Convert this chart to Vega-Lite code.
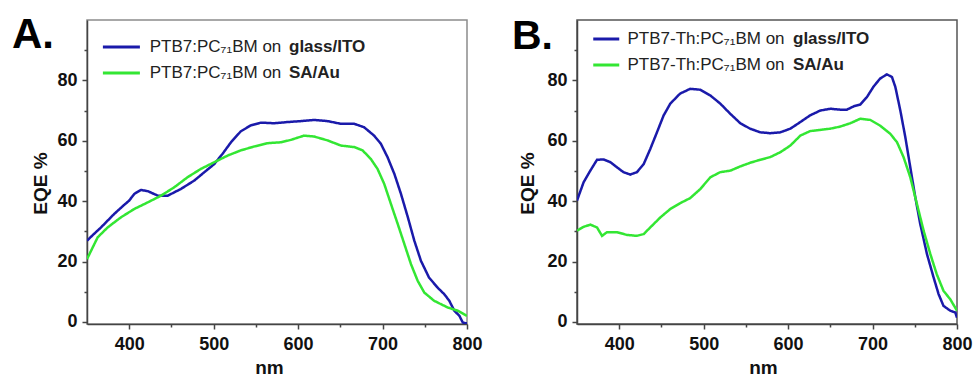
{
  "$schema": "https://vega.github.io/schema/vega-lite/v6.json",
  "padding": {"left": 11, "top": 13, "right": 0, "bottom": 0},
  "background": "white",
  "bounds": "flush",
  "spacing": 110,
  "resolve": {"scale": {"color": "independent", "strokeDash": "independent", "x": "independent", "y": "independent"}, "legend": {"color": "independent", "strokeDash": "independent"}},
  "config": {
    "font": "Liberation Sans",
    "view": {"stroke": "#8c8c8c", "strokeWidth": 1.5},
    "axis": {"grid": false, "labelFont": "Liberation Sans", "labelFontSize": 18, "labelFontWeight": "bold", "labelColor": "#111", "titleFont": "Liberation Sans", "titleFontSize": 19, "titleFontWeight": "bold", "titleColor": "#111", "domainColor": "#444", "domainWidth": 1.5, "tickColor": "#444", "tickWidth": 1.5, "labelFlush": false, "labelOverlap": false, "labelBound": false},
    "legend": {"labelFont": "Liberation Sans", "labelFontSize": 17, "labelColor": "#222", "padding": 0, "labelLimit": 400}
  },
  "datasets": {
    "A": [
      {"curve": "PTB7:PC₇₁BM on glass/ITO", "substrate": "glass/ITO", "nm": 350, "eqe": 26.9},
      {"curve": "PTB7:PC₇₁BM on glass/ITO", "substrate": "glass/ITO", "nm": 357, "eqe": 28.8},
      {"curve": "PTB7:PC₇₁BM on glass/ITO", "substrate": "glass/ITO", "nm": 366.6, "eqe": 31.3},
      {"curve": "PTB7:PC₇₁BM on glass/ITO", "substrate": "glass/ITO", "nm": 382, "eqe": 35.7},
      {"curve": "PTB7:PC₇₁BM on glass/ITO", "substrate": "glass/ITO", "nm": 393, "eqe": 38.5},
      {"curve": "PTB7:PC₇₁BM on glass/ITO", "substrate": "glass/ITO", "nm": 400, "eqe": 40.2},
      {"curve": "PTB7:PC₇₁BM on glass/ITO", "substrate": "glass/ITO", "nm": 406, "eqe": 42.4},
      {"curve": "PTB7:PC₇₁BM on glass/ITO", "substrate": "glass/ITO", "nm": 414, "eqe": 43.7},
      {"curve": "PTB7:PC₇₁BM on glass/ITO", "substrate": "glass/ITO", "nm": 422, "eqe": 43.3},
      {"curve": "PTB7:PC₇₁BM on glass/ITO", "substrate": "glass/ITO", "nm": 434, "eqe": 41.8},
      {"curve": "PTB7:PC₇₁BM on glass/ITO", "substrate": "glass/ITO", "nm": 445.5, "eqe": 41.8},
      {"curve": "PTB7:PC₇₁BM on glass/ITO", "substrate": "glass/ITO", "nm": 461, "eqe": 44},
      {"curve": "PTB7:PC₇₁BM on glass/ITO", "substrate": "glass/ITO", "nm": 477, "eqe": 46.8},
      {"curve": "PTB7:PC₇₁BM on glass/ITO", "substrate": "glass/ITO", "nm": 489, "eqe": 49.6},
      {"curve": "PTB7:PC₇₁BM on glass/ITO", "substrate": "glass/ITO", "nm": 500.8, "eqe": 52.3},
      {"curve": "PTB7:PC₇₁BM on glass/ITO", "substrate": "glass/ITO", "nm": 510.6, "eqe": 55.7},
      {"curve": "PTB7:PC₇₁BM on glass/ITO", "substrate": "glass/ITO", "nm": 520.5, "eqe": 59.5},
      {"curve": "PTB7:PC₇₁BM on glass/ITO", "substrate": "glass/ITO", "nm": 532, "eqe": 63.1},
      {"curve": "PTB7:PC₇₁BM on glass/ITO", "substrate": "glass/ITO", "nm": 544, "eqe": 65.1},
      {"curve": "PTB7:PC₇₁BM on glass/ITO", "substrate": "glass/ITO", "nm": 556, "eqe": 66},
      {"curve": "PTB7:PC₇₁BM on glass/ITO", "substrate": "glass/ITO", "nm": 572, "eqe": 65.8},
      {"curve": "PTB7:PC₇₁BM on glass/ITO", "substrate": "glass/ITO", "nm": 587.6, "eqe": 66.2},
      {"curve": "PTB7:PC₇₁BM on glass/ITO", "substrate": "glass/ITO", "nm": 603, "eqe": 66.5},
      {"curve": "PTB7:PC₇₁BM on glass/ITO", "substrate": "glass/ITO", "nm": 619, "eqe": 66.9},
      {"curve": "PTB7:PC₇₁BM on glass/ITO", "substrate": "glass/ITO", "nm": 635, "eqe": 66.5},
      {"curve": "PTB7:PC₇₁BM on glass/ITO", "substrate": "glass/ITO", "nm": 650.8, "eqe": 65.6},
      {"curve": "PTB7:PC₇₁BM on glass/ITO", "substrate": "glass/ITO", "nm": 666.6, "eqe": 65.6},
      {"curve": "PTB7:PC₇₁BM on glass/ITO", "substrate": "glass/ITO", "nm": 678, "eqe": 64.5},
      {"curve": "PTB7:PC₇₁BM on glass/ITO", "substrate": "glass/ITO", "nm": 690, "eqe": 61.7},
      {"curve": "PTB7:PC₇₁BM on glass/ITO", "substrate": "glass/ITO", "nm": 698, "eqe": 59},
      {"curve": "PTB7:PC₇₁BM on glass/ITO", "substrate": "glass/ITO", "nm": 706, "eqe": 54.5},
      {"curve": "PTB7:PC₇₁BM on glass/ITO", "substrate": "glass/ITO", "nm": 714, "eqe": 49},
      {"curve": "PTB7:PC₇₁BM on glass/ITO", "substrate": "glass/ITO", "nm": 721.8, "eqe": 42.4},
      {"curve": "PTB7:PC₇₁BM on glass/ITO", "substrate": "glass/ITO", "nm": 730, "eqe": 34.6},
      {"curve": "PTB7:PC₇₁BM on glass/ITO", "substrate": "glass/ITO", "nm": 737.6, "eqe": 26.9},
      {"curve": "PTB7:PC₇₁BM on glass/ITO", "substrate": "glass/ITO", "nm": 745.5, "eqe": 20.2},
      {"curve": "PTB7:PC₇₁BM on glass/ITO", "substrate": "glass/ITO", "nm": 755, "eqe": 14.7},
      {"curve": "PTB7:PC₇₁BM on glass/ITO", "substrate": "glass/ITO", "nm": 765, "eqe": 11.4},
      {"curve": "PTB7:PC₇₁BM on glass/ITO", "substrate": "glass/ITO", "nm": 773, "eqe": 9.2},
      {"curve": "PTB7:PC₇₁BM on glass/ITO", "substrate": "glass/ITO", "nm": 779, "eqe": 7},
      {"curve": "PTB7:PC₇₁BM on glass/ITO", "substrate": "glass/ITO", "nm": 785, "eqe": 3.7},
      {"curve": "PTB7:PC₇₁BM on glass/ITO", "substrate": "glass/ITO", "nm": 791, "eqe": 2},
      {"curve": "PTB7:PC₇₁BM on glass/ITO", "substrate": "glass/ITO", "nm": 795, "eqe": -0.2},
      {"curve": "PTB7:PC₇₁BM on glass/ITO", "substrate": "glass/ITO", "nm": 800, "eqe": -0.5},
      {"curve": "PTB7:PC₇₁BM on SA/Au", "substrate": "SA/Au", "nm": 350, "eqe": 20.8},
      {"curve": "PTB7:PC₇₁BM on SA/Au", "substrate": "SA/Au", "nm": 362.6, "eqe": 28},
      {"curve": "PTB7:PC₇₁BM on SA/Au", "substrate": "SA/Au", "nm": 374.5, "eqe": 31.3},
      {"curve": "PTB7:PC₇₁BM on SA/Au", "substrate": "SA/Au", "nm": 390, "eqe": 34.6},
      {"curve": "PTB7:PC₇₁BM on SA/Au", "substrate": "SA/Au", "nm": 406, "eqe": 37.4},
      {"curve": "PTB7:PC₇₁BM on SA/Au", "substrate": "SA/Au", "nm": 422, "eqe": 39.6},
      {"curve": "PTB7:PC₇₁BM on SA/Au", "substrate": "SA/Au", "nm": 437.6, "eqe": 41.8},
      {"curve": "PTB7:PC₇₁BM on SA/Au", "substrate": "SA/Au", "nm": 453.4, "eqe": 44.6},
      {"curve": "PTB7:PC₇₁BM on SA/Au", "substrate": "SA/Au", "nm": 469, "eqe": 47.9},
      {"curve": "PTB7:PC₇₁BM on SA/Au", "substrate": "SA/Au", "nm": 485, "eqe": 50.7},
      {"curve": "PTB7:PC₇₁BM on SA/Au", "substrate": "SA/Au", "nm": 500.8, "eqe": 52.9},
      {"curve": "PTB7:PC₇₁BM on SA/Au", "substrate": "SA/Au", "nm": 516.6, "eqe": 55.1},
      {"curve": "PTB7:PC₇₁BM on SA/Au", "substrate": "SA/Au", "nm": 532, "eqe": 56.8},
      {"curve": "PTB7:PC₇₁BM on SA/Au", "substrate": "SA/Au", "nm": 548, "eqe": 58.1},
      {"curve": "PTB7:PC₇₁BM on SA/Au", "substrate": "SA/Au", "nm": 564, "eqe": 59.2},
      {"curve": "PTB7:PC₇₁BM on SA/Au", "substrate": "SA/Au", "nm": 579.7, "eqe": 59.5},
      {"curve": "PTB7:PC₇₁BM on SA/Au", "substrate": "SA/Au", "nm": 591.6, "eqe": 60.3},
      {"curve": "PTB7:PC₇₁BM on SA/Au", "substrate": "SA/Au", "nm": 607, "eqe": 61.7},
      {"curve": "PTB7:PC₇₁BM on SA/Au", "substrate": "SA/Au", "nm": 619, "eqe": 61.4},
      {"curve": "PTB7:PC₇₁BM on SA/Au", "substrate": "SA/Au", "nm": 635, "eqe": 60.1},
      {"curve": "PTB7:PC₇₁BM on SA/Au", "substrate": "SA/Au", "nm": 650.8, "eqe": 58.4},
      {"curve": "PTB7:PC₇₁BM on SA/Au", "substrate": "SA/Au", "nm": 666.6, "eqe": 57.9},
      {"curve": "PTB7:PC₇₁BM on SA/Au", "substrate": "SA/Au", "nm": 676.4, "eqe": 56.8},
      {"curve": "PTB7:PC₇₁BM on SA/Au", "substrate": "SA/Au", "nm": 686, "eqe": 54},
      {"curve": "PTB7:PC₇₁BM on SA/Au", "substrate": "SA/Au", "nm": 694, "eqe": 50.7},
      {"curve": "PTB7:PC₇₁BM on SA/Au", "substrate": "SA/Au", "nm": 702, "eqe": 45.7},
      {"curve": "PTB7:PC₇₁BM on SA/Au", "substrate": "SA/Au", "nm": 710, "eqe": 39},
      {"curve": "PTB7:PC₇₁BM on SA/Au", "substrate": "SA/Au", "nm": 718, "eqe": 32.4},
      {"curve": "PTB7:PC₇₁BM on SA/Au", "substrate": "SA/Au", "nm": 725.8, "eqe": 25.8},
      {"curve": "PTB7:PC₇₁BM on SA/Au", "substrate": "SA/Au", "nm": 733.7, "eqe": 19.1},
      {"curve": "PTB7:PC₇₁BM on SA/Au", "substrate": "SA/Au", "nm": 741.6, "eqe": 13.6},
      {"curve": "PTB7:PC₇₁BM on SA/Au", "substrate": "SA/Au", "nm": 749.5, "eqe": 9.7},
      {"curve": "PTB7:PC₇₁BM on SA/Au", "substrate": "SA/Au", "nm": 761, "eqe": 7},
      {"curve": "PTB7:PC₇₁BM on SA/Au", "substrate": "SA/Au", "nm": 777, "eqe": 4.8},
      {"curve": "PTB7:PC₇₁BM on SA/Au", "substrate": "SA/Au", "nm": 789, "eqe": 3.7},
      {"curve": "PTB7:PC₇₁BM on SA/Au", "substrate": "SA/Au", "nm": 800, "eqe": 2}
    ],
    "B": [
      {"curve": "PTB7-Th:PC₇₁BM on glass/ITO", "substrate": "glass/ITO", "nm": 350, "eqe": 40.2},
      {"curve": "PTB7-Th:PC₇₁BM on glass/ITO", "substrate": "glass/ITO", "nm": 357.9, "eqe": 46.3},
      {"curve": "PTB7-Th:PC₇₁BM on glass/ITO", "substrate": "glass/ITO", "nm": 365.8, "eqe": 50.1},
      {"curve": "PTB7-Th:PC₇₁BM on glass/ITO", "substrate": "glass/ITO", "nm": 373.7, "eqe": 53.7},
      {"curve": "PTB7-Th:PC₇₁BM on glass/ITO", "substrate": "glass/ITO", "nm": 381.6, "eqe": 53.8},
      {"curve": "PTB7-Th:PC₇₁BM on glass/ITO", "substrate": "glass/ITO", "nm": 389.5, "eqe": 52.9},
      {"curve": "PTB7-Th:PC₇₁BM on glass/ITO", "substrate": "glass/ITO", "nm": 397.4, "eqe": 51.2},
      {"curve": "PTB7-Th:PC₇₁BM on glass/ITO", "substrate": "glass/ITO", "nm": 405, "eqe": 49.6},
      {"curve": "PTB7-Th:PC₇₁BM on glass/ITO", "substrate": "glass/ITO", "nm": 413, "eqe": 48.8},
      {"curve": "PTB7-Th:PC₇₁BM on glass/ITO", "substrate": "glass/ITO", "nm": 421, "eqe": 49.6},
      {"curve": "PTB7-Th:PC₇₁BM on glass/ITO", "substrate": "glass/ITO", "nm": 429, "eqe": 52.3},
      {"curve": "PTB7-Th:PC₇₁BM on glass/ITO", "substrate": "glass/ITO", "nm": 436.8, "eqe": 57.3},
      {"curve": "PTB7-Th:PC₇₁BM on glass/ITO", "substrate": "glass/ITO", "nm": 444.7, "eqe": 62.8},
      {"curve": "PTB7-Th:PC₇₁BM on glass/ITO", "substrate": "glass/ITO", "nm": 452.6, "eqe": 68.4},
      {"curve": "PTB7-Th:PC₇₁BM on glass/ITO", "substrate": "glass/ITO", "nm": 460.5, "eqe": 72.3},
      {"curve": "PTB7-Th:PC₇₁BM on glass/ITO", "substrate": "glass/ITO", "nm": 472, "eqe": 75.6},
      {"curve": "PTB7-Th:PC₇₁BM on glass/ITO", "substrate": "glass/ITO", "nm": 484, "eqe": 77.2},
      {"curve": "PTB7-Th:PC₇₁BM on glass/ITO", "substrate": "glass/ITO", "nm": 496, "eqe": 76.9},
      {"curve": "PTB7-Th:PC₇₁BM on glass/ITO", "substrate": "glass/ITO", "nm": 507.9, "eqe": 75},
      {"curve": "PTB7-Th:PC₇₁BM on glass/ITO", "substrate": "glass/ITO", "nm": 519.7, "eqe": 72.3},
      {"curve": "PTB7-Th:PC₇₁BM on glass/ITO", "substrate": "glass/ITO", "nm": 531.6, "eqe": 68.9},
      {"curve": "PTB7-Th:PC₇₁BM on glass/ITO", "substrate": "glass/ITO", "nm": 543.4, "eqe": 65.8},
      {"curve": "PTB7-Th:PC₇₁BM on glass/ITO", "substrate": "glass/ITO", "nm": 555, "eqe": 64},
      {"curve": "PTB7-Th:PC₇₁BM on glass/ITO", "substrate": "glass/ITO", "nm": 567, "eqe": 62.8},
      {"curve": "PTB7-Th:PC₇₁BM on glass/ITO", "substrate": "glass/ITO", "nm": 579, "eqe": 62.5},
      {"curve": "PTB7-Th:PC₇₁BM on glass/ITO", "substrate": "glass/ITO", "nm": 590.8, "eqe": 62.8},
      {"curve": "PTB7-Th:PC₇₁BM on glass/ITO", "substrate": "glass/ITO", "nm": 602.6, "eqe": 64},
      {"curve": "PTB7-Th:PC₇₁BM on glass/ITO", "substrate": "glass/ITO", "nm": 614.5, "eqe": 66.2},
      {"curve": "PTB7-Th:PC₇₁BM on glass/ITO", "substrate": "glass/ITO", "nm": 626, "eqe": 68.4},
      {"curve": "PTB7-Th:PC₇₁BM on glass/ITO", "substrate": "glass/ITO", "nm": 638, "eqe": 70},
      {"curve": "PTB7-Th:PC₇₁BM on glass/ITO", "substrate": "glass/ITO", "nm": 650, "eqe": 70.6},
      {"curve": "PTB7-Th:PC₇₁BM on glass/ITO", "substrate": "glass/ITO", "nm": 661.8, "eqe": 70.3},
      {"curve": "PTB7-Th:PC₇₁BM on glass/ITO", "substrate": "glass/ITO", "nm": 669.7, "eqe": 70.3},
      {"curve": "PTB7-Th:PC₇₁BM on glass/ITO", "substrate": "glass/ITO", "nm": 677.6, "eqe": 71.4},
      {"curve": "PTB7-Th:PC₇₁BM on glass/ITO", "substrate": "glass/ITO", "nm": 685.5, "eqe": 72},
      {"curve": "PTB7-Th:PC₇₁BM on glass/ITO", "substrate": "glass/ITO", "nm": 693.4, "eqe": 74.5},
      {"curve": "PTB7-Th:PC₇₁BM on glass/ITO", "substrate": "glass/ITO", "nm": 701.3, "eqe": 78},
      {"curve": "PTB7-Th:PC₇₁BM on glass/ITO", "substrate": "glass/ITO", "nm": 709, "eqe": 80.6},
      {"curve": "PTB7-Th:PC₇₁BM on glass/ITO", "substrate": "glass/ITO", "nm": 717, "eqe": 82},
      {"curve": "PTB7-Th:PC₇₁BM on glass/ITO", "substrate": "glass/ITO", "nm": 723, "eqe": 81.1},
      {"curve": "PTB7-Th:PC₇₁BM on glass/ITO", "substrate": "glass/ITO", "nm": 727, "eqe": 77.8},
      {"curve": "PTB7-Th:PC₇₁BM on glass/ITO", "substrate": "glass/ITO", "nm": 732.9, "eqe": 70},
      {"curve": "PTB7-Th:PC₇₁BM on glass/ITO", "substrate": "glass/ITO", "nm": 738.8, "eqe": 61.2},
      {"curve": "PTB7-Th:PC₇₁BM on glass/ITO", "substrate": "glass/ITO", "nm": 744.7, "eqe": 51.2},
      {"curve": "PTB7-Th:PC₇₁BM on glass/ITO", "substrate": "glass/ITO", "nm": 750.6, "eqe": 41.3},
      {"curve": "PTB7-Th:PC₇₁BM on glass/ITO", "substrate": "glass/ITO", "nm": 756.5, "eqe": 32.4},
      {"curve": "PTB7-Th:PC₇₁BM on glass/ITO", "substrate": "glass/ITO", "nm": 764.4, "eqe": 22.5},
      {"curve": "PTB7-Th:PC₇₁BM on glass/ITO", "substrate": "glass/ITO", "nm": 772.3, "eqe": 14.7},
      {"curve": "PTB7-Th:PC₇₁BM on glass/ITO", "substrate": "glass/ITO", "nm": 778.2, "eqe": 9.2},
      {"curve": "PTB7-Th:PC₇₁BM on glass/ITO", "substrate": "glass/ITO", "nm": 784, "eqe": 5.3},
      {"curve": "PTB7-Th:PC₇₁BM on glass/ITO", "substrate": "glass/ITO", "nm": 792, "eqe": 3.7},
      {"curve": "PTB7-Th:PC₇₁BM on glass/ITO", "substrate": "glass/ITO", "nm": 798, "eqe": 3.1},
      {"curve": "PTB7-Th:PC₇₁BM on glass/ITO", "substrate": "glass/ITO", "nm": 800, "eqe": 1.4},
      {"curve": "PTB7-Th:PC₇₁BM on SA/Au", "substrate": "SA/Au", "nm": 350, "eqe": 30.2},
      {"curve": "PTB7-Th:PC₇₁BM on SA/Au", "substrate": "SA/Au", "nm": 357.9, "eqe": 31.5},
      {"curve": "PTB7-Th:PC₇₁BM on SA/Au", "substrate": "SA/Au", "nm": 365.8, "eqe": 32.2},
      {"curve": "PTB7-Th:PC₇₁BM on SA/Au", "substrate": "SA/Au", "nm": 373.7, "eqe": 31.3},
      {"curve": "PTB7-Th:PC₇₁BM on SA/Au", "substrate": "SA/Au", "nm": 379.6, "eqe": 28.5},
      {"curve": "PTB7-Th:PC₇₁BM on SA/Au", "substrate": "SA/Au", "nm": 385.5, "eqe": 29.7},
      {"curve": "PTB7-Th:PC₇₁BM on SA/Au", "substrate": "SA/Au", "nm": 397.4, "eqe": 29.7},
      {"curve": "PTB7-Th:PC₇₁BM on SA/Au", "substrate": "SA/Au", "nm": 409.2, "eqe": 28.8},
      {"curve": "PTB7-Th:PC₇₁BM on SA/Au", "substrate": "SA/Au", "nm": 421, "eqe": 28.5},
      {"curve": "PTB7-Th:PC₇₁BM on SA/Au", "substrate": "SA/Au", "nm": 429, "eqe": 29.1},
      {"curve": "PTB7-Th:PC₇₁BM on SA/Au", "substrate": "SA/Au", "nm": 436.8, "eqe": 31.3},
      {"curve": "PTB7-Th:PC₇₁BM on SA/Au", "substrate": "SA/Au", "nm": 448.7, "eqe": 34.6},
      {"curve": "PTB7-Th:PC₇₁BM on SA/Au", "substrate": "SA/Au", "nm": 460.5, "eqe": 37.4},
      {"curve": "PTB7-Th:PC₇₁BM on SA/Au", "substrate": "SA/Au", "nm": 472, "eqe": 39.3},
      {"curve": "PTB7-Th:PC₇₁BM on SA/Au", "substrate": "SA/Au", "nm": 484, "eqe": 41},
      {"curve": "PTB7-Th:PC₇₁BM on SA/Au", "substrate": "SA/Au", "nm": 496, "eqe": 44},
      {"curve": "PTB7-Th:PC₇₁BM on SA/Au", "substrate": "SA/Au", "nm": 507.9, "eqe": 47.9},
      {"curve": "PTB7-Th:PC₇₁BM on SA/Au", "substrate": "SA/Au", "nm": 519.7, "eqe": 49.6},
      {"curve": "PTB7-Th:PC₇₁BM on SA/Au", "substrate": "SA/Au", "nm": 531.6, "eqe": 50.1},
      {"curve": "PTB7-Th:PC₇₁BM on SA/Au", "substrate": "SA/Au", "nm": 543.4, "eqe": 51.5},
      {"curve": "PTB7-Th:PC₇₁BM on SA/Au", "substrate": "SA/Au", "nm": 555, "eqe": 52.7},
      {"curve": "PTB7-Th:PC₇₁BM on SA/Au", "substrate": "SA/Au", "nm": 567, "eqe": 53.7},
      {"curve": "PTB7-Th:PC₇₁BM on SA/Au", "substrate": "SA/Au", "nm": 579, "eqe": 54.6},
      {"curve": "PTB7-Th:PC₇₁BM on SA/Au", "substrate": "SA/Au", "nm": 590.8, "eqe": 56.2},
      {"curve": "PTB7-Th:PC₇₁BM on SA/Au", "substrate": "SA/Au", "nm": 602.6, "eqe": 58.4},
      {"curve": "PTB7-Th:PC₇₁BM on SA/Au", "substrate": "SA/Au", "nm": 614.5, "eqe": 61.7},
      {"curve": "PTB7-Th:PC₇₁BM on SA/Au", "substrate": "SA/Au", "nm": 626, "eqe": 63.2},
      {"curve": "PTB7-Th:PC₇₁BM on SA/Au", "substrate": "SA/Au", "nm": 638, "eqe": 63.6},
      {"curve": "PTB7-Th:PC₇₁BM on SA/Au", "substrate": "SA/Au", "nm": 650, "eqe": 64},
      {"curve": "PTB7-Th:PC₇₁BM on SA/Au", "substrate": "SA/Au", "nm": 661.8, "eqe": 64.7},
      {"curve": "PTB7-Th:PC₇₁BM on SA/Au", "substrate": "SA/Au", "nm": 673.7, "eqe": 65.8},
      {"curve": "PTB7-Th:PC₇₁BM on SA/Au", "substrate": "SA/Au", "nm": 685.5, "eqe": 67.3},
      {"curve": "PTB7-Th:PC₇₁BM on SA/Au", "substrate": "SA/Au", "nm": 697.4, "eqe": 66.9},
      {"curve": "PTB7-Th:PC₇₁BM on SA/Au", "substrate": "SA/Au", "nm": 709, "eqe": 65},
      {"curve": "PTB7-Th:PC₇₁BM on SA/Au", "substrate": "SA/Au", "nm": 721, "eqe": 62.3},
      {"curve": "PTB7-Th:PC₇₁BM on SA/Au", "substrate": "SA/Au", "nm": 729, "eqe": 59.5},
      {"curve": "PTB7-Th:PC₇₁BM on SA/Au", "substrate": "SA/Au", "nm": 736.8, "eqe": 54.5},
      {"curve": "PTB7-Th:PC₇₁BM on SA/Au", "substrate": "SA/Au", "nm": 744.7, "eqe": 47.9},
      {"curve": "PTB7-Th:PC₇₁BM on SA/Au", "substrate": "SA/Au", "nm": 752.6, "eqe": 39},
      {"curve": "PTB7-Th:PC₇₁BM on SA/Au", "substrate": "SA/Au", "nm": 760.5, "eqe": 30.2},
      {"curve": "PTB7-Th:PC₇₁BM on SA/Au", "substrate": "SA/Au", "nm": 768.4, "eqe": 22.5},
      {"curve": "PTB7-Th:PC₇₁BM on SA/Au", "substrate": "SA/Au", "nm": 776, "eqe": 15.8},
      {"curve": "PTB7-Th:PC₇₁BM on SA/Au", "substrate": "SA/Au", "nm": 784, "eqe": 10.3},
      {"curve": "PTB7-Th:PC₇₁BM on SA/Au", "substrate": "SA/Au", "nm": 792, "eqe": 7.5},
      {"curve": "PTB7-Th:PC₇₁BM on SA/Au", "substrate": "SA/Au", "nm": 800, "eqe": 3.7}
    ]
  },
  "hconcat": [
    {
      "width": 380,
      "height": 304,
      "title": {"text": "A.", "anchor": "start", "frame": "group", "fontSize": 42, "fontWeight": "bold", "font": "Liberation Sans", "color": "#000", "baseline": "alphabetic", "offset": -70, "dx": -75, "dy": 0},
      "data": {"name": "A"},
      "mark": {"type": "line", "strokeWidth": 2.5, "clip": true},
      "encoding": {
        "x": {"field": "nm", "type": "quantitative", "scale": {"domain": [350, 800], "nice": false, "zero": false},
          "axis": {"title": "nm", "values": [400, 450, 500, 550, 600, 650, 700, 750, 800], "labelExpr": "datum.value % 100 === 0 ? datum.label : ''", "tickSize": {"condition": {"test": "datum.value % 100 === 0", "value": 5}, "value": 3}, "labelPadding": 6, "titleX": 182, "titleY": 49, "titleBaseline": "alphabetic", "titleAlign": "center"}},
        "y": {"field": "eqe", "type": "quantitative", "scale": {"domain": [-0.7, 100], "nice": false, "zero": false},
          "axis": {"title": "EQE %", "values": [0, 10, 20, 30, 40, 50, 60, 70, 80, 90], "labelExpr": "datum.value % 20 === 0 ? datum.label : ''", "tickSize": {"condition": {"test": "datum.value % 20 === 0", "value": 5}, "value": 3}, "labelPadding": 5, "titleX": -41, "titleY": 163, "titleAngle": -90, "titleBaseline": "alphabetic", "titleAlign": "center"}},
        "color": {"field": "curve", "type": "nominal",
          "scale": {"domain": ["PTB7:PC₇₁BM on glass/ITO", "PTB7:PC₇₁BM on SA/Au"], "range": ["#1a1aaa", "#33e633"]},
          "legend": {"title": null, "orient": "none", "legendX": 25.9, "legendY": 18.5, "symbolType": "M-4,0H4", "symbolSize": 85.56, "symbolStrokeWidth": 3, "labelOffset": 19.85, "rowPadding": 8, "labelExpr": "slice(datum.label, 0, indexof(datum.label, ' on ') + 3)"}},
        "strokeDash": {"field": "substrate", "type": "nominal",
          "scale": {"domain": ["glass/ITO", "SA/Au"], "range": [[1, 0], [1, 0]]},
          "legend": {"title": null, "orient": "none", "legendX": 185, "legendY": 18.5, "symbolOpacity": 0, "symbolStrokeWidth": 0, "symbolSize": 1, "labelOffset": 0, "rowPadding": 8, "labelFontWeight": "bold"}}
      }
    },
    {
      "width": 380,
      "height": 304,
      "view": {"stroke": "#555"},
      "title": {"text": "B.", "anchor": "start", "frame": "group", "fontSize": 41, "fontWeight": "bold", "font": "Liberation Sans", "color": "#000", "baseline": "alphabetic", "offset": -70, "dx": -65, "dy": 0},
      "data": {"name": "B"},
      "mark": {"type": "line", "strokeWidth": 2.5, "clip": true},
      "encoding": {
        "x": {"field": "nm", "type": "quantitative", "scale": {"domain": [350, 800], "nice": false, "zero": false},
          "axis": {"title": "nm", "values": [400, 450, 500, 550, 600, 650, 700, 750, 800], "labelExpr": "datum.value % 100 === 0 ? datum.label : ''", "tickSize": {"condition": {"test": "datum.value % 100 === 0", "value": 5}, "value": 3}, "labelPadding": 6, "titleX": 186, "titleY": 49, "titleBaseline": "alphabetic", "titleAlign": "center"}},
        "y": {"field": "eqe", "type": "quantitative", "scale": {"domain": [-0.7, 100], "nice": false, "zero": false},
          "axis": {"title": "EQE %", "values": [0, 10, 20, 30, 40, 50, 60, 70, 80, 90], "labelExpr": "datum.value % 20 === 0 ? datum.label : ''", "tickSize": {"condition": {"test": "datum.value % 20 === 0", "value": 5}, "value": 3}, "labelPadding": 5, "titleX": -44, "titleY": 163, "titleAngle": -90, "titleBaseline": "alphabetic", "titleAlign": "center"}},
        "color": {"field": "curve", "type": "nominal",
          "scale": {"domain": ["PTB7-Th:PC₇₁BM on glass/ITO", "PTB7-Th:PC₇₁BM on SA/Au"], "range": ["#1a1aaa", "#33e633"]},
          "legend": {"title": null, "orient": "none", "legendX": 20.75, "legendY": 10.5, "symbolType": "M-4,0H4", "symbolSize": 42.25, "symbolStrokeWidth": 3, "labelOffset": 12.75, "rowPadding": 8, "labelExpr": "slice(datum.label, 0, indexof(datum.label, ' on ') + 3)"}},
        "strokeDash": {"field": "substrate", "type": "nominal",
          "scale": {"domain": ["glass/ITO", "SA/Au"], "range": [[1, 0], [1, 0]]},
          "legend": {"title": null, "orient": "none", "legendX": 199, "legendY": 10.5, "symbolOpacity": 0, "symbolStrokeWidth": 0, "symbolSize": 1, "labelOffset": 0, "rowPadding": 8, "labelFontWeight": "bold"}}
      }
    }
  ]
}
